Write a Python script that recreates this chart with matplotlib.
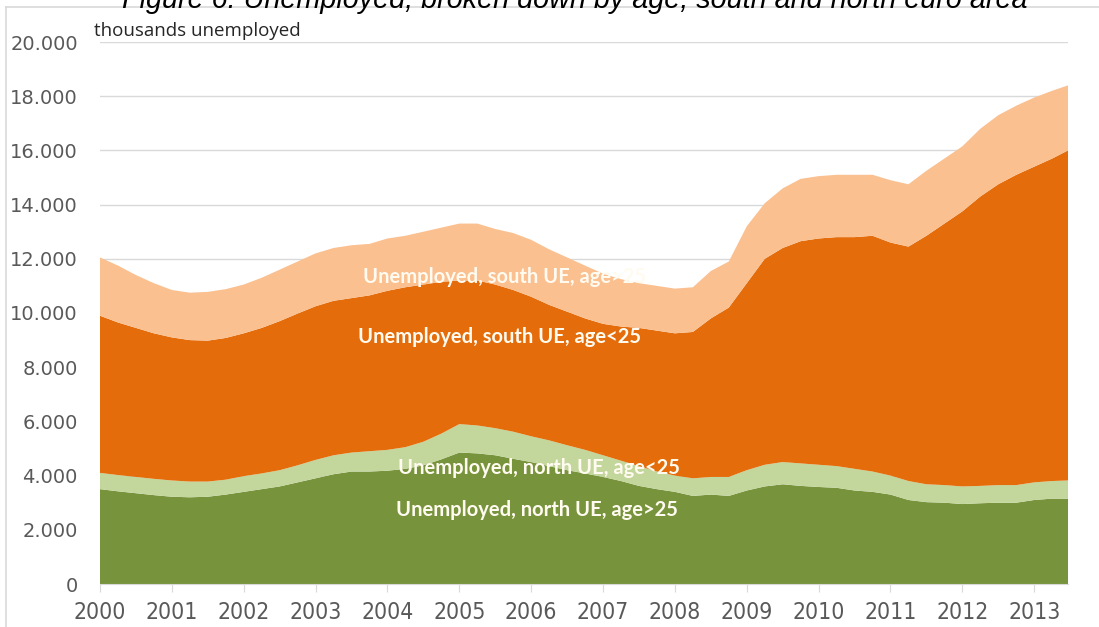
import matplotlib.pyplot as plt
import matplotlib.ticker as mticker
from matplotlib.lines import Line2D
import numpy as np

# quarterly observations (last one mid-2013), thousands of unemployed
years = list(np.arange(2000.0, 2013.3, 0.25)) + [2013.47]

north_over25 = [3.50, 3.42, 3.35, 3.28, 3.22, 3.20, 3.22, 3.30, 3.40, 3.50,
                3.60, 3.75, 3.90, 4.05, 4.15, 4.15, 4.18, 4.25, 4.38, 4.60,
                4.85, 4.82, 4.75, 4.62, 4.50, 4.35, 4.20, 4.08, 3.95, 3.80,
                3.62, 3.50, 3.40, 3.25, 3.30, 3.25, 3.45, 3.60, 3.68, 3.62,
                3.58, 3.55, 3.45, 3.40, 3.30, 3.10, 3.02, 3.00, 2.95, 2.98,
                3.00, 3.00, 3.10, 3.15, 3.15]
north_total = [4.10, 4.02, 3.95, 3.88, 3.82, 3.78, 3.78, 3.85, 3.98, 4.08,
               4.20, 4.38, 4.58, 4.75, 4.85, 4.90, 4.95, 5.05, 5.25, 5.55,
               5.90, 5.85, 5.75, 5.62, 5.45, 5.30, 5.12, 4.95, 4.75, 4.55,
               4.35, 4.15, 4.00, 3.90, 3.95, 3.95, 4.20, 4.40, 4.50, 4.45,
               4.40, 4.35, 4.25, 4.15, 4.00, 3.80, 3.68, 3.65, 3.60, 3.62,
               3.65, 3.65, 3.75, 3.80, 3.82]
north_south_young = [9.90, 9.65, 9.45, 9.25, 9.10, 9.00, 8.98, 9.08, 9.25, 9.45,
                     9.70, 9.98, 10.25, 10.45, 10.55, 10.65, 10.82, 10.95, 11.05, 11.15,
                     11.20, 11.20, 11.05, 10.85, 10.60, 10.30, 10.05, 9.80, 9.60, 9.50,
                     9.45, 9.35, 9.25, 9.30, 9.80, 10.20, 11.10, 12.00, 12.40, 12.65,
                     12.75, 12.80, 12.80, 12.85, 12.60, 12.45, 12.85, 13.30, 13.75, 14.30,
                     14.75, 15.10, 15.40, 15.70, 16.00]
grand_total = [12.05, 11.75, 11.40, 11.10, 10.85, 10.75, 10.78, 10.88, 11.05, 11.30,
               11.60, 11.90, 12.20, 12.40, 12.50, 12.55, 12.75, 12.85, 13.00, 13.15,
               13.30, 13.30, 13.10, 12.95, 12.70, 12.35, 12.05, 11.75, 11.45, 11.25,
               11.10, 11.00, 10.90, 10.95, 11.55, 11.90, 13.20, 14.05, 14.60, 14.95,
               15.05, 15.10, 15.10, 15.10, 14.90, 14.75, 15.25, 15.70, 16.15, 16.80,
               17.30, 17.65, 17.95, 18.20, 18.40]

labels = ["Unemployed, north UE, age>25", "Unemployed, north UE, age<25",
          "Unemployed, south UE, age<25", "Unemployed, south UE, age>25"]
colors = ["#77933C", "#C3D69B", "#E46C0A", "#FAC090"]

# layer sizes from the cumulative boundaries
tops = np.array([north_over25, north_total, north_south_young, grand_total]) * 1000
layers = np.diff(np.vstack([np.zeros(len(years)), tops]), axis=0)

fig = plt.figure(figsize=(10.99, 6.27), dpi=100)
ax = fig.add_axes([100 / 1099, 1 - 584 / 627, 968 / 1099, 542 / 627])

ax.stackplot(years, layers, colors=colors, linewidth=0, zorder=2)

ax.set_xlim(2000, 2013.47)
ax.set_ylim(0, 20000)
ax.set_yticks(range(0, 20001, 2000))
ax.yaxis.set_major_formatter(mticker.FuncFormatter(
    lambda v, p: "0" if v == 0 else f"{int(v):,}".replace(",", ".")))
ax.set_xticks(range(2000, 2014))
ax.set_xticklabels([str(y) for y in range(2000, 2014)])
ax.grid(axis="y", color="#D9D9D9", linewidth=1, zorder=0)
for s in ["top", "right", "left"]:
    ax.spines[s].set_visible(False)
ax.spines["bottom"].set_color("#D9D9D9")
ax.tick_params(axis="y", length=0, pad=16, labelsize=14, labelcolor="#595959")
ax.tick_params(axis="x", length=6, color="#D9D9D9", pad=6, labelcolor="#595959")
for t in ax.get_xticklabels():
    t.set_fontsize(16.5)
    t.set_fontstretch("condensed")

# series names written inside the areas
label_pos = [(2004.12, 2730), (2004.15, 4280), (2003.59, 9110), (2003.66, 11330)]
for name, (lx, ly) in zip(labels, label_pos):
    ax.text(lx, ly, name, color="#FFFBF0", fontsize=14.5, fontweight="bold",
            family=["Lato", "DejaVu Sans"], va="center", ha="left", zorder=3)

ax.text(94 / 1099, 1 - 31 / 627, "thousands unemployed", transform=fig.transFigure,
        fontsize=13.5, color="#262626", family=["Open Sans", "DejaVu Sans"],
        va="center", ha="left")

fig.text(575 / 1099, 1 - 8 / 627,
         "Figure 6: Unemployed, broken down by age, south and north euro area",
         fontsize=20.7, style="italic", family=["Liberation Sans", "DejaVu Sans"],
         ha="center", va="baseline", color="black")

# chart border
fig.add_artist(Line2D([6 / 1099, 1.01], [1 - 7 / 627, 1 - 7 / 627],
                      transform=fig.transFigure, color="#D9D9D9", linewidth=1.2))
fig.add_artist(Line2D([6 / 1099, 6 / 1099], [-0.01, 1 - 7 / 627],
                      transform=fig.transFigure, color="#D9D9D9", linewidth=1.2))

fig.savefig("out.png", dpi=100, facecolor="white")
